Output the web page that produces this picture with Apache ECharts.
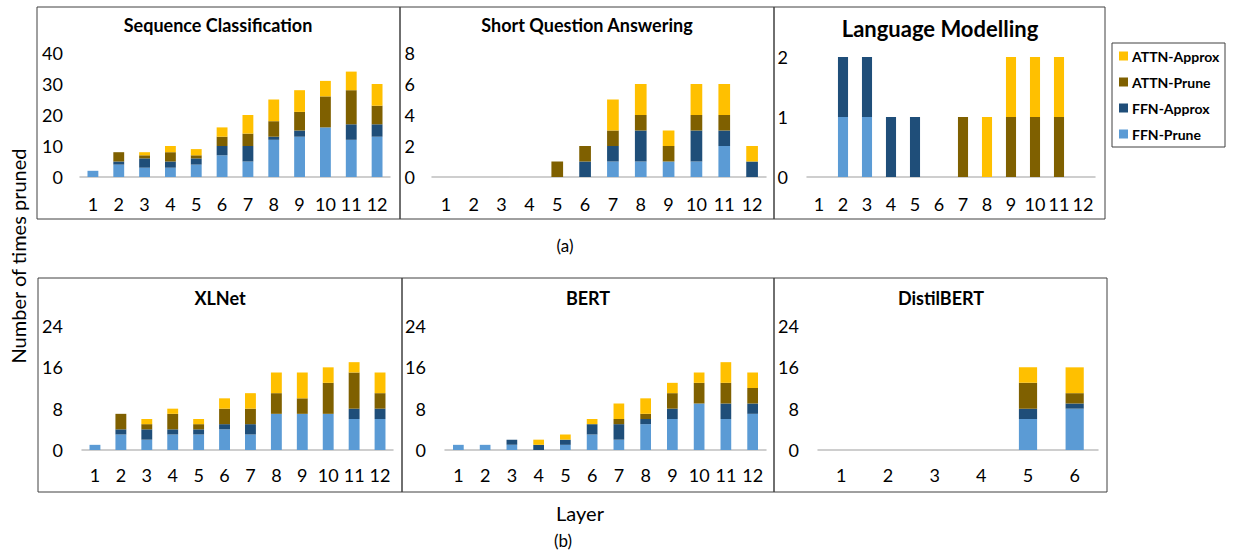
<!DOCTYPE html>
<html>
<head>
<meta charset="utf-8">
<script src="https://cdn.jsdelivr.net/npm/echarts@6/dist/echarts.min.js"></script>
<style>
html,body{margin:0;padding:0;background:#fff;}
#chart{width:1234px;height:554px;}
</style>
</head>
<body>
<div id="chart"></div>
<script>
// ---- data ----
const layers12 = ['1','2','3','4','5','6','7','8','9','10','11','12'];
const layers6 = ['1','2','3','4','5','6'];
const seriesNames = ['FFN-Prune','FFN-Approx','ATTN-Prune','ATTN-Approx'];
const legendOrder = ['ATTN-Approx','ATTN-Prune','FFN-Approx','FFN-Prune'];

const seqFfnPrune   = [2,4,3,3,4,7,5,12,13,16,12,13];
const seqFfnApprox  = [0,1,3,2,2,3,5,1,2,0,5,4];
const seqAttnPrune  = [0,3,1,3,1,3,4,5,6,10,11,6];
const seqAttnApprox = [0,0,1,2,2,3,6,7,7,5,6,7];

const sqaFfnPrune   = [0,0,0,0,0,0,1,1,1,1,2,0];
const sqaFfnApprox  = [0,0,0,0,0,1,1,2,0,2,1,1];
const sqaAttnPrune  = [0,0,0,0,1,1,1,1,1,1,1,0];
const sqaAttnApprox = [0,0,0,0,0,0,2,2,1,2,2,1];

const lmFfnPrune   = [0,1,1,0,0,0,0,0,0,0,0,0];
const lmFfnApprox  = [0,1,1,1,1,0,0,0,0,0,0,0];
const lmAttnPrune  = [0,0,0,0,0,0,1,0,1,1,1,0];
const lmAttnApprox = [0,0,0,0,0,0,0,1,1,1,1,0];

const xlFfnPrune   = [1,3,2,3,3,4,3,7,7,7,6,6];
const xlFfnApprox  = [0,1,2,1,1,1,2,0,0,0,2,2];
const xlAttnPrune  = [0,3,1,3,1,3,3,4,3,6,7,3];
const xlAttnApprox = [0,0,1,1,1,2,3,4,5,3,2,4];

const bertFfnPrune   = [1,1,1,0,1,3,2,5,6,9,6,7];
const bertFfnApprox  = [0,0,1,1,1,2,3,1,2,0,3,2];
const bertAttnPrune  = [0,0,0,0,0,0,1,1,3,4,4,3];
const bertAttnApprox = [0,0,0,1,1,1,3,3,2,2,4,3];

const dbFfnPrune   = [0,0,0,0,6,8];
const dbFfnApprox  = [0,0,0,0,2,1];
const dbAttnPrune  = [0,0,0,0,5,2];
const dbAttnApprox = [0,0,0,0,3,5];

const yTicksSeq = [0,10,20,30,40];
const yTicksSqa = [0,2,4,6,8];
const yTicksLm = [0,1,2];
const yTicksB = [0,8,16,24];

// ---- layout / style ----
const colors = {'FFN-Prune':'#5B9BD5','FFN-Approx':'#1F4E79','ATTN-Prune':'#7F6000','ATTN-Approx':'#FFC000'};
const FONT = 'Lato';

const panels = [
  {title:'Sequence Classification', cats:layers12, ticks:yTicksSeq, data:[seqFfnPrune,seqFfnApprox,seqAttnPrune,seqAttnApprox],
   grid:{left:80, top:53, width:310, height:124}, box:[37,7,400,219], tx:218, ty:25, tsize:18, bw:'42%', lm:17, cm:18},
  {title:'Short Question Answering', cats:layers12, ticks:yTicksSqa, data:[sqaFfnPrune,sqaFfnApprox,sqaAttnPrune,sqaAttnApprox],
   grid:{left:432, top:53, width:334, height:124}, box:[400,7,774,219], tx:587, ty:25, tsize:18, bw:'42%', lm:17, cm:18},
  {title:'Language Modelling', cats:layers12, ticks:yTicksLm, data:[lmFfnPrune,lmFfnApprox,lmAttnPrune,lmAttnApprox],
   grid:{left:807, top:57, width:288, height:120}, box:[774,7,1105,219], tx:940, ty:28, tsize:22, bw:'42%', lm:19, cm:18},
  {title:'XLNet', cats:layers12, ticks:yTicksB, data:[xlFfnPrune,xlFfnApprox,xlAttnPrune,xlAttnApprox],
   grid:{left:82, top:326, width:311, height:124}, box:[38,278,402,492], tx:220, ty:298, tsize:18, bw:'42%', lm:19, cm:16},
  {title:'BERT', cats:layers12, ticks:yTicksB, data:[bertFfnPrune,bertFfnApprox,bertAttnPrune,bertAttnApprox],
   grid:{left:445, top:326, width:321, height:124}, box:[402,278,774,492], tx:588, ty:298, tsize:18, bw:'40%', lm:19, cm:16},
  {title:'DistilBERT', cats:layers6, ticks:yTicksB, data:[dbFfnPrune,dbFfnApprox,dbAttnPrune,dbAttnApprox],
   grid:{left:818, top:326, width:280, height:124}, box:[774,278,1107,492], tx:941, ty:298, tsize:18, bw:'39%', lm:19, cm:16}
];

const grid = [], xAxis = [], yAxis = [], series = [], graphic = [];
panels.forEach((p, i) => {
  grid.push(Object.assign({containLabel:false}, p.grid));
  xAxis.push({
    type:'category', gridIndex:i, data:p.cats,
    axisLine:{show:true, lineStyle:{color:'#BFBFBF', width:1.5}},
    axisTick:{show:false},
    axisLabel:{color:'#000', fontFamily:FONT, fontSize:18, margin:p.cm, interval:0}
  });
  const tk = p.ticks;
  yAxis.push({
    type:'value', gridIndex:i, min:tk[0], max:tk[tk.length-1], interval:tk[1]-tk[0],
    axisLine:{show:false}, axisTick:{show:false}, splitLine:{show:false},
    axisLabel:{color:'#000', fontFamily:FONT, fontSize:18, margin:p.lm}
  });
  seriesNames.forEach((nm, k) => {
    series.push({
      name:nm, type:'bar', xAxisIndex:i, yAxisIndex:i, stack:'s'+i,
      data:p.data[k], barWidth:p.bw,
      itemStyle:{color:colors[nm]}, emphasis:{disabled:true}
    });
  });
  const b = p.box;
  graphic.push({type:'rect', shape:{x:b[0], y:b[1], width:b[2]-b[0], height:b[3]-b[1]},
    style:{fill:'none', stroke:'#404040', lineWidth:1}, silent:true});
  graphic.push({type:'text', x:p.tx, y:p.ty,
    style:{text:p.title, fill:'#000', font:'bold '+p.tsize+'px '+FONT, textAlign:'center', textVerticalAlign:'middle'}});
});

// legend box
graphic.push({type:'rect', shape:{x:1112, y:43, width:113, height:104},
  style:{fill:'none', stroke:'#404040', lineWidth:1}, silent:true});
graphic.push({type:'text', x:18, y:256, rotation:Math.PI/2,
  style:{text:'Number of times pruned', fill:'#000', font:'20px '+FONT, textAlign:'center', textVerticalAlign:'middle'}});
graphic.push({type:'text', x:580, y:513,
  style:{text:'Layer', fill:'#000', font:'20px '+FONT, textAlign:'center', textVerticalAlign:'middle'}});
graphic.push({type:'text', x:565, y:245,
  style:{text:'(a)', fill:'#000', font:'17px '+FONT, textAlign:'center', textVerticalAlign:'middle'}});
graphic.push({type:'text', x:563, y:540,
  style:{text:'(b)', fill:'#000', font:'17px '+FONT, textAlign:'center', textVerticalAlign:'middle'}});

const chart = echarts.init(document.getElementById('chart'), null, {renderer:'svg'});
chart.setOption({
  animation:false,
  backgroundColor:'#fff',
  legend:{
    data:legendOrder, orient:'vertical', left:1114, top:44,
    itemWidth:9, itemHeight:9, itemGap:12, icon:'rect',
    textStyle:{fontFamily:FONT, fontWeight:'bold', fontSize:14, color:'#000', padding:[0,0,0,-1]},
    selectedMode:false
  },
  grid, xAxis, yAxis, series, graphic
});
</script>
</body>
</html>
